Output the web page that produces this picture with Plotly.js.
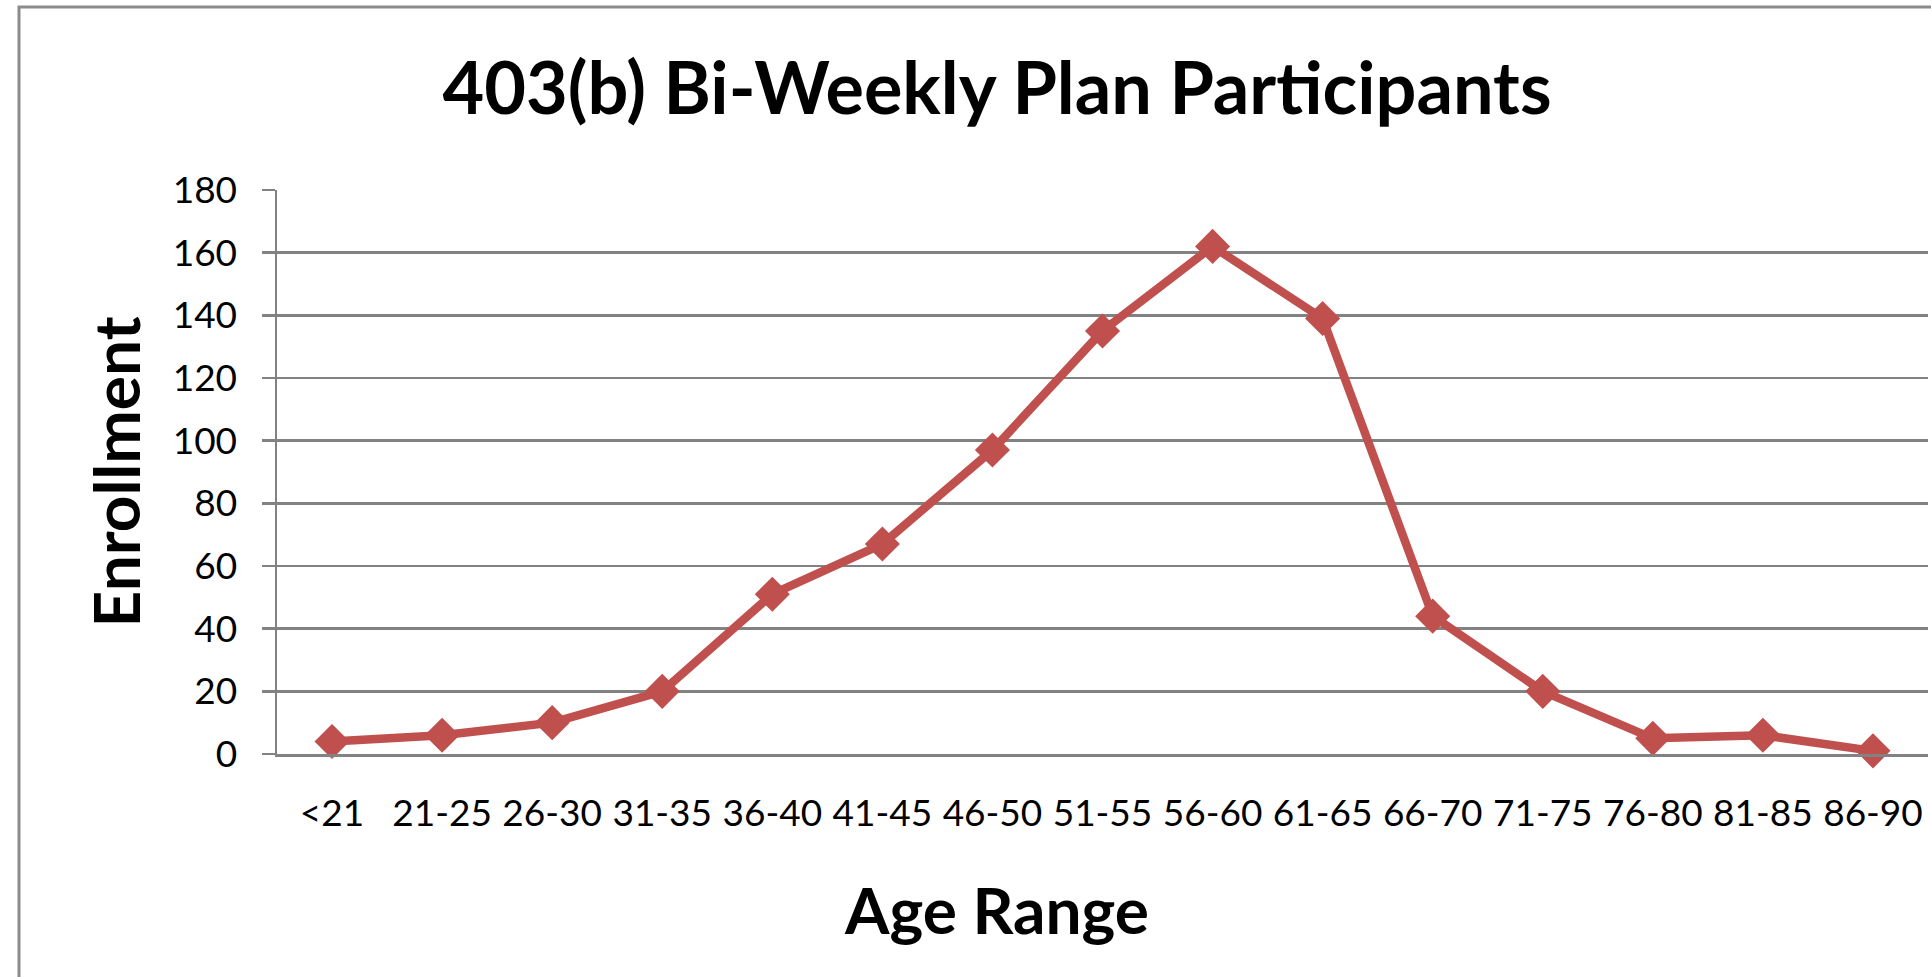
<!DOCTYPE html>
<html>
<head>
<meta charset="utf-8">
<script src="https://cdn.plot.ly/plotly-3.0.1.min.js"></script>
<style>
  html, body { margin: 0; padding: 0; background: #ffffff; }
  #chart { width: 1931px; height: 977px; }
</style>
</head>
<body>
<div id="chart"></div>
<script>
const ageRanges = ["<21", "21-25", "26-30", "31-35", "36-40", "41-45", "46-50", "51-55",
                   "56-60", "61-65", "66-70", "71-75", "76-80", "81-85", "86-90"];
const enrollment = [4, 6, 10, 20, 51, 67, 97, 135, 162, 139, 44, 20, 5, 6, 1];
const yTicks = [0, 20, 40, 60, 80, 100, 120, 140, 160, 180];

const chartTitle = "403(b) Bi-Weekly Plan Participants";
const xTitle = "Age Range";
const yTitle = "Enrollment";

const red = "#C0504D";
const grid = "#828282";

const trace = {
  type: "scatter",
  mode: "lines+markers",
  x: ageRanges,
  y: enrollment,
  line: { color: red, width: 8.5 },
  marker: { symbol: "diamond", size: 27, color: red },
  cliponaxis: false,
  hoverinfo: "x+y"
};

// plot area geometry (px)
const W = 1931, H = 977;
const mL = 277, mR = 3, mT = 190, mB = 223;
const pw = W - mL - mR, ph = H - mT - mB;
const px = v => (v - mL) / pw;
const py = v => (H - mB - v) / ph;

const layout = {
  width: W, height: H,
  margin: { l: mL, r: mR, t: mT, b: mB, pad: 0 },
  paper_bgcolor: "#ffffff",
  plot_bgcolor: "#ffffff",
  showlegend: false,
  font: { family: "Lato, 'Open Sans', sans-serif", color: "#000000" },
  title: {
    text: chartTitle,
    font: { family: "Lato, sans-serif", size: 72, color: "#000000", weight: "bold" },
    x: 997 / W, xanchor: "center",
    y: 1 - 89 / H, yanchor: "middle"
  },
  xaxis: {
    type: "category",
    range: [-0.5, 14.5],
    showgrid: false,
    zeroline: false,
    showline: true, linecolor: grid, linewidth: 2.5,
    ticks: "",
    tickfont: { size: 37, color: "#000000" },
    ticklabelstandoff: 25,
    automargin: false
  },
  yaxis: {
    range: [0, 180],
    tickvals: yTicks,
    showgrid: true, gridcolor: grid, gridwidth: 2.5,
    zeroline: false,
    showline: true, linecolor: grid, linewidth: 2.5,
    ticks: "outside", ticklen: 13, tickcolor: grid, tickwidth: 2.5,
    tickfont: { size: 37, color: "#000000" },
    ticklabelstandoff: 17,
    automargin: false,
    title: {
      text: yTitle,
      font: { size: 64, color: "#000000", weight: "bold" },
      standoff: 12
    }
  },
  annotations: [
    {
      text: xTitle,
      xref: "paper", yref: "paper",
      x: px(996), y: py(909),
      xanchor: "center", yanchor: "middle",
      showarrow: false,
      font: { family: "Lato, sans-serif", size: 64, color: "#000000", weight: "bold" }
    }
  ],
  shapes: [
    {
      type: "path", xref: "paper", yref: "paper",
      path: "M " + px(19) + " " + py(H + 5) + " L " + px(19) + " " + py(7) + " L " + px(W + 5) + " " + py(7),
      line: { color: "#8c8c8c", width: 3 }
    }
  ]
};

Plotly.newPlot("chart", [trace], layout, { staticPlot: true, displayModeBar: false });
</script>
</body>
</html>
